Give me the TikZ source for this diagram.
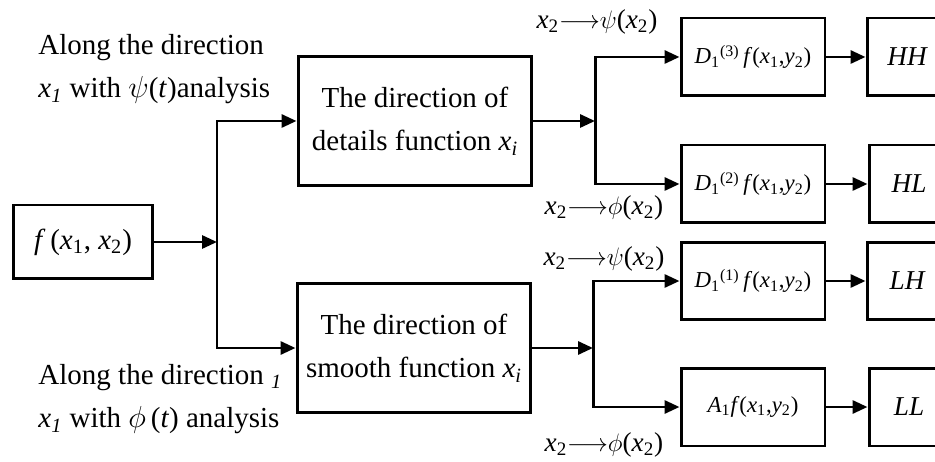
\documentclass[tikz,border=0pt]{standalone}
\usepackage{fontspec}
\setmainfont{Liberation Serif}
\usetikzlibrary{arrows.meta}
\newcommand{\vi}[1]{\textit{#1}}
\newcommand{\lo}[1]{\textsubscript{#1}}
\newcommand{\maplbl}[1]{\vi{x}\lo{2}$\longrightarrow$$#1$(\vi{x}\lo{2})}
\begin{document}
\begin{tikzpicture}[x=0.02cm, y=-0.02cm, line width=1.7pt,
    font=\fontsize{16.5}{24.5}\selectfont,
    >={Triangle[length=0.3cm,width=0.26cm]},
    blk/.style={draw, align=center, inner sep=2pt},
    coefblk/.style={blk, minimum width=2.88cm, minimum height=1.56cm,
      font=\fontsize{13}{16}\selectfont},
    outblk/.style={blk, minimum width=1.6cm, minimum height=1.56cm,
      font=\fontsize{15.5}{18}\selectfont\itshape},
    maptxt/.style={font=\fontsize{15.5}{18}\selectfont}]
    \useasboundingbox (0,0) rectangle (935,462);
    % Input
    \node[blk, minimum width=2.8cm, minimum height=1.48cm] (fx) at (83,242)
      {\vi{f}\,(\vi{x}\lo{1}, \vi{x}\lo{2})};
    % First direction
    \node[blk, minimum width=4.68cm, minimum height=2.6cm] (det) at (415,121)
      {The direction of\\details function \vi{x\lo{i}}};
    \node[blk, minimum width=4.68cm, minimum height=2.6cm] (smo) at (414,348)
      {The direction of\\smooth function \vi{x\lo{i}}};
    \node[anchor=west, align=left, inner sep=0pt] (alpsi) at (37,69)
      {Along the direction\\\vi{x\lo{1}} with $\psi$(\vi{t})analysis};
    \node[anchor=west, align=left, inner sep=0pt] (alphi) at (37,399)
      {Along the direction \vi{\lo{1}}\\\vi{x\lo{1}} with $\phi$\,(\vi{t}) analysis};
    % Second direction
    \node[coefblk] (d3) at (753,57)
      {\vi{D}\lo{1}\textsuperscript{(3)}\,\vi{f}(\vi{x}\lo{1},\vi{y}\lo{2})};
    \node[coefblk] (d2) at (753,184)
      {\vi{D}\lo{1}\textsuperscript{(2)}\,\vi{f}(\vi{x}\lo{1},\vi{y}\lo{2})};
    \node[coefblk] (d1) at (753,281)
      {\vi{D}\lo{1}\textsuperscript{(1)}\,\vi{f}(\vi{x}\lo{1},\vi{y}\lo{2})};
    \node[coefblk] (a1) at (753,407)
      {\vi{A}\lo{1}\vi{f}(\vi{x}\lo{1},\vi{y}\lo{2})};
    \node[outblk] (hh) at (907,57) {HH};
    \node[outblk] (hl) at (909,184) {HL};
    \node[outblk] (lh) at (907,281) {LH};
    \node[outblk] (ll) at (909,407) {LL};
    \node[maptxt] (mpsi1) at (597,22) {\maplbl{\psi}};
    \node[maptxt] (mphi1) at (604,208) {\maplbl{\phi}};
    \node[maptxt] (mpsi2) at (604,259) {\maplbl{\psi}};
    \node[maptxt] (mphi2) at (604,445) {\maplbl{\phi}};
    % Connectors
    \coordinate (s1) at (217,242);
    \coordinate (s2) at (595,121);
    \coordinate (s3) at (593,348);
    \draw[->] (fx) -- (s1);
    \draw[->] (s1) |- (det.west);
    \draw[->] (s1) |- (smo.west);
    \draw[->] (det) -- (s2);
    \draw[->] (s2) |- (d3.west);
    \draw[->] (s2) |- (d2.west);
    \draw[->] (smo) -- (s3);
    \draw[->] (s3) |- (d1.west);
    \draw[->] (s3) |- (a1.west);
    \draw[->] (d3) -- (hh);
    \draw[->] (d2) -- (hl);
    \draw[->] (d1) -- (lh);
    \draw[->] (a1) -- (ll);
\end{tikzpicture}
\end{document}
